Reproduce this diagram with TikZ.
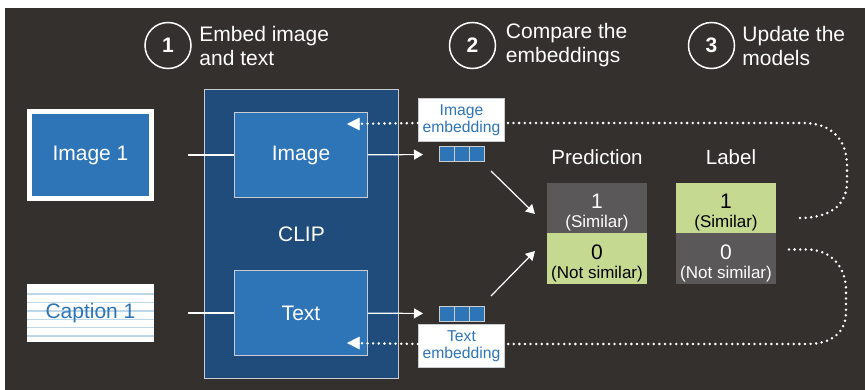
\documentclass[tikz,border=0pt]{standalone}
\usepackage{fontspec}
\setmainfont{Liberation Sans}
\usepackage{tikz}
\usetikzlibrary{arrows.meta}
\usetikzlibrary{positioning}
\usetikzlibrary{calc}

\definecolor{bgdark}{HTML}{33302D}
\definecolor{clipblue}{HTML}{1F4C7B}
\definecolor{boxblue}{HTML}{2E75B8}
\definecolor{cellgray}{HTML}{5A5858}
\definecolor{cellgreen}{HTML}{C6D990}
\definecolor{ruleblue}{HTML}{BCD6EA}
\definecolor{framegray}{HTML}{C9CCD0}

\pgfdeclarelayer{canvaslayer}
\pgfdeclarelayer{looplayer}
\pgfsetlayers{canvaslayer,looplayer,main}

\begin{document}
\begin{tikzpicture}[
    x=1pt, y=-1pt, % pixel-like units, y grows downwards
    stepcircle/.style={circle, draw=white, line width=1.5pt, minimum size=46pt, inner sep=0pt, text=white, font=\fontsize{21}{21}\selectfont\bfseries}, % numbered circles
    steptext/.style={align=left, inner sep=0pt, text=white, font=\fontsize{21}{24}\selectfont}, % step captions
    imgbox/.style={fill=boxblue, draw=white, line width=5pt, minimum width=122pt, minimum height=87pt, text=white, font=\fontsize{21}{21}\selectfont}, % input image
    capbox/.style={fill=white, minimum width=127pt, minimum height=58pt, text=boxblue, font=\fontsize{21}{21}\selectfont,
        path picture={\foreach \k in {0,...,5}
            \draw[ruleblue, line width=1.4pt] ([yshift={-(10+8.4*\k)*1pt}]path picture bounding box.north west) -- ([yshift={-(10+8.4*\k)*1pt}]path picture bounding box.north east);}}, % lined paper caption
    clipbox/.style={fill=clipblue, draw=framegray, line width=1.5pt, minimum width=194pt, minimum height=289pt, text=white, font=\fontsize{21}{21}\selectfont}, % CLIP model
    encoder/.style={fill=boxblue, draw=framegray, line width=1pt, minimum width=133pt, minimum height=85pt, text=white, font=\fontsize{21}{21}\selectfont}, % encoders
    vecsq/.style={fill=boxblue, draw=framegray, line width=1pt, minimum size=15pt, inner sep=0pt, outer sep=0pt}, % embedding entries
    emblabel/.style={fill=white, draw=framegray, line width=1pt, minimum width=86pt, minimum height=43pt, inner sep=0pt, align=center, text=boxblue, font=\fontsize{15.7}{17}\selectfont}, % embedding tags
    cell/.style={minimum width=100pt, minimum height=50.5pt, inner sep=0pt, outer sep=0pt, align=center, font=\fontsize{17}{19}\selectfont}, % table cells
    header/.style={inner sep=0pt, text=white, font=\fontsize{20.5}{20.5}\selectfont}, % table headers
    plainline/.style={white, line width=1.2pt}, % line into encoder
    flow/.style={white, line width=1.2pt, -{Triangle[length=9pt,width=10pt]}}, % arrows
    feedback/.style={white, line width=2.8pt, line cap=round, dash pattern=on 0pt off 5.6pt}, % dotted loops
    backtip/.style={white, line width=0.5pt, -{Triangle[length=12.5pt,width=12.5pt]}} % solid head of a dotted loop
]

    % canvas
    \useasboundingbox (0,0) rectangle (865,390);
    \begin{pgfonlayer}{canvaslayer}
        \fill[bgdark] (5,8) rectangle (865,390);
    \end{pgfonlayer}

    % the three steps
    \node[stepcircle] (s1) at (168,45.5) {1};
    \node[steptext, right=7.5pt of s1] (t1) {Embed image\\and text};
    \node[stepcircle] (s2) at (472.5,45.5) {2};
    \node[steptext, right=9.5pt of s2] (t2) {Compare the\\embeddings};
    \node[stepcircle] (s3) at (711.5,45.5) {3};
    \node[steptext, right=7pt of s3] (t3) {Update the\\models};

    % inputs
    \node[imgbox] (image1) at (90.5,155) {Image 1};
    \node[capbox] (caption1) at (90.5,313) {Caption 1};

    % CLIP with its two encoders
    \node[clipbox] (clip) at (301.5,234) {CLIP};
    \node[encoder] (imgenc) at (301,155) {Image};
    \node[encoder] (txtenc) at (301,313) {Text};

    % embedding vectors
    \node[vecsq] (iv1) at (446.5,154.5) {};
    \node[vecsq, right=0pt of iv1] (iv2) {};
    \node[vecsq, right=0pt of iv2] (iv3) {};
    \node[vecsq] (tv1) at (446.5,313.5) {};
    \node[vecsq, right=0pt of tv1] (tv2) {};
    \node[vecsq, right=0pt of tv2] (tv3) {};

    % embedding tags
    \node[emblabel] (imgemb) at (461.5,120) {Image\\embedding};
    \node[emblabel] (txtemb) at (461.5,346) {Text\\embedding};

    % prediction and label tables
    \node[cell, fill=cellgray, text=white] (pred1) at (597,208) {{\fontsize{21}{21}\selectfont\rule{0pt}{24pt}1}\\(Similar)};
    \node[cell, fill=cellgreen, text=black, below=0pt of pred1] (pred0) {{\fontsize{21}{21}\selectfont\rule{0pt}{24pt}0}\\(Not similar)};
    \node[cell, fill=cellgreen, text=black] (lab1) at (726,208) {{\fontsize{21}{21}\selectfont\rule{0pt}{24pt}1}\\(Similar)};
    \node[cell, fill=cellgray, text=white, below=0pt of lab1] (lab0) {{\fontsize{21}{21}\selectfont\rule{0pt}{24pt}0}\\(Not similar)};
    \node[header, above=18pt of pred1] (predhead) {Prediction};
    \node[header, above=18pt of lab1, xshift=5pt] (labhead) {Label};

    % free ends of the loops
    \coordinate (fb1) at ($(lab1.east)+(24,10)$);
    \coordinate (fb0) at ($(lab0.east)+(13,-9)$);
    \coordinate (imgtip) at ($(imgenc.north east)+(-21,12)$);
    \coordinate (txttip) at ($(txtenc.south east)+(-21,-13)$);

    % dotted update loops, kept under the tags
    \begin{pgfonlayer}{looplayer}
        \draw[feedback] (fb1) .. controls (830,218) and (847,205) .. (847,182) -- (847,166) .. controls (847,140) and (832,123) .. (803,123) -- ([yshift=-3pt]imgemb.east);
        \draw[feedback] (fb0) -- (808,249.5) .. controls (832,250) and (846,268) .. (846,290) -- (846,312) .. controls (846,332) and (832,344) .. (808,344) -- ([yshift=2pt]txtemb.east);
    \end{pgfonlayer}
    \draw[feedback, shorten >=14pt] ([yshift=-3pt]imgemb.west) -- (imgtip);
    \draw[feedback, shorten >=14pt] ([yshift=2pt]txtemb.west) -- (txttip);
    \draw[backtip] ($(imgtip)+(12.5,0)$) -- (imgtip);
    \draw[backtip] ($(txttip)+(12.5,0)$) -- (txttip);

    % forward connections
    \draw[plainline, shorten <=34pt] (image1) -- (imgenc);
    \draw[plainline, shorten <=34pt] (caption1) -- (txtenc);
    \draw[flow, shorten >=16pt] (imgenc) -- (iv1);
    \draw[flow, shorten >=16pt] (txtenc) -- (tv1);
    \draw[flow] ($(iv3.south east)+(7,9)$) -- ($(pred1.west)+(-12,6)$);
    \draw[flow] ($(tv3.north east)+(7,-10)$) -- ($(pred0.west)+(-12,-7.5)$);
\end{tikzpicture}
\end{document}
